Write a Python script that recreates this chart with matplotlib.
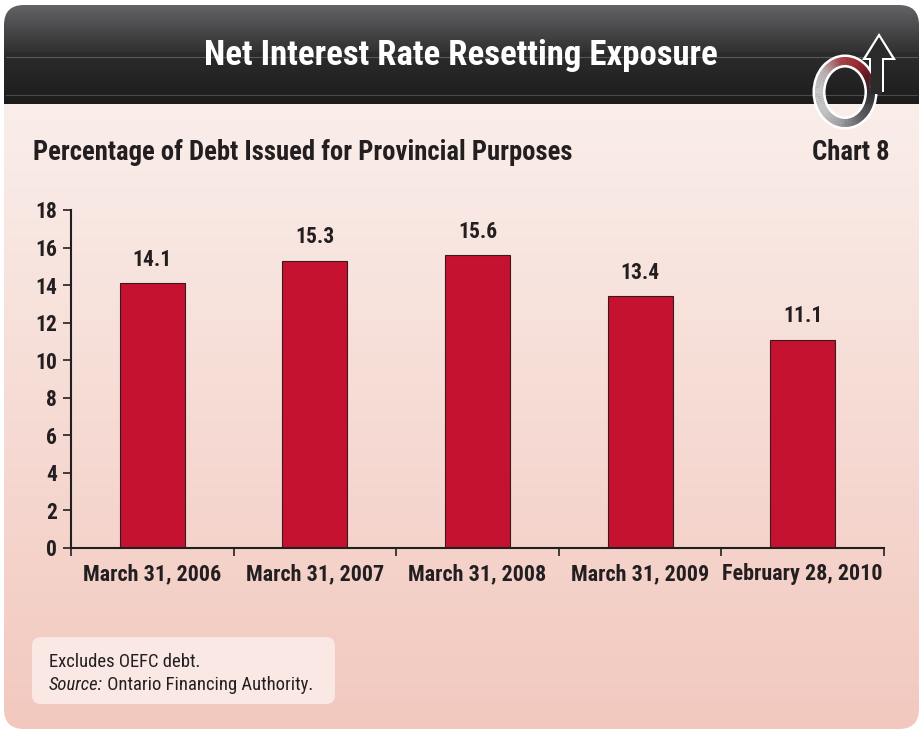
import numpy as np
import matplotlib
matplotlib.use('Agg')
import matplotlib.pyplot as plt
from matplotlib.patches import FancyBboxPatch, Polygon, Ellipse
from matplotlib.colors import to_rgb

# data
categories = ['March 31, 2006', 'March 31, 2007', 'March 31, 2008',
              'March 31, 2009', 'February 28, 2010']
values = [14.1, 15.3, 15.6, 13.4, 11.1]
y_ticks = [0, 2, 4, 6, 8, 10, 12, 14, 16, 18]

title = 'Net Interest Rate Resetting Exposure'
subtitle = 'Percentage of Debt Issued for Provincial Purposes'
chart_no = 'Chart 8'

NARROW = ['Roboto Condensed', 'DejaVu Sans']
plt.rcParams['font.family'] = NARROW
TXT = '#231f20'

W, H = 923, 733
fig = plt.figure(figsize=(W / 100, H / 100), dpi=100)
fig.patch.set_facecolor('white')

# background axes in pixel coords
bg = fig.add_axes([0, 0, 1, 1])
bg.set_xlim(0, W)
bg.set_ylim(H, 0)
bg.axis('off')


def lerp(c1, c2, t):
    a, b = np.array(to_rgb(c1)), np.array(to_rgb(c2))
    return a + (b - a) * t


# gradient image: dark header then pink body
img = np.zeros((H, W, 3))
hdr_bot = 104
for r in range(H):
    if r < hdr_bot:
        t = r / hdr_bot
        if t < 0.5:
            c = lerp('#68686b', '#303031', t / 0.5)
        else:
            c = lerp('#2c2c2d', '#1c1c1c', (t - 0.5) / 0.5)
    else:
        t = (r - hdr_bot) / (H - hdr_bot)
        c = lerp('#faeeea', '#f2c8be', t)
    img[r, :, :] = c

panel = FancyBboxPatch((4, 5), 915, 724, boxstyle='round,pad=0,rounding_size=20',
                       facecolor='none', edgecolor='none')
bg.add_patch(panel)
im = bg.imshow(img, extent=(0, W, H, 0), aspect='auto', interpolation='bilinear')
im.set_clip_path(panel)

# thin lines in header
bg.plot([6, 917], [57, 57], color='#58585a', lw=0.8)
bg.plot([6, 917], [95, 95], color='#4a4a4c', lw=0.8)

bg.text(461, 56, title, color='white', fontsize=25, fontweight='bold',
        ha='center', va='center')

bg.text(33, 153, subtitle, color=TXT, fontsize=19.2, fontweight='bold',
        ha='left', va='center')
bg.text(890, 153, chart_no, color=TXT, fontsize=19.2, fontweight='bold',
        ha='right', va='center')

# logo: ring + arrow
cx, cy, ra, rb, th = 845, 92, 30, 35, 8
col_stops = [(0, '#2e2e30'), (30, '#5a1a20'), (60, '#9a2a30'), (100, '#a8464a'),
             (140, '#bdb4b5'), (180, '#c8c8ca'), (220, '#c0c0c2'), (260, '#9a9a9c'),
             (310, '#555557'), (360, '#2e2e30')]


def ring_color(a):
    for (a0, c0), (a1, c1) in zip(col_stops[:-1], col_stops[1:]):
        if a0 <= a <= a1:
            return lerp(c0, c1, (a - a0) / (a1 - a0))
    return to_rgb('#2e2e30')


# white outlines
bg.add_patch(Ellipse((cx, cy), 2 * ra + 2, 2 * rb + 2, fc='none', ec='white', lw=2.2, zorder=3))
bg.add_patch(Ellipse((cx, cy), 2 * (ra - th) - 2, 2 * (rb - th) - 2, fc='none', ec='white',
                     lw=2.2, zorder=3))
bg.add_patch(Polygon([(869, 92), (869, 60), (862, 60), (879, 33), (896, 60), (884, 60), (884, 92)],
                     closed=True, fc='white', ec='none', zorder=3))
step = 4
for a in range(0, 360, step):
    t1 = np.radians(np.linspace(a, a + step + 0.5, 6))
    outer = np.c_[cx + ra * np.cos(t1), cy - rb * np.sin(t1)]
    inner = np.c_[cx + (ra - th) * np.cos(t1[::-1]), cy - (rb - th) * np.sin(t1[::-1])]
    bg.add_patch(Polygon(np.vstack([outer, inner]), closed=True,
                         fc=ring_color(a + step / 2), ec='none', zorder=4))
bg.add_patch(Polygon([(871, 94), (871, 58), (866, 58), (879, 37), (892, 58), (882, 58), (882, 94)],
                     closed=True, fc='#2a2a2b', ec='none', zorder=5))

# footnote box
box = FancyBboxPatch((32, 637), 303, 67, boxstyle='round,pad=0,rounding_size=9',
                     facecolor='#f9e8e4', edgecolor='none', zorder=2)
bg.add_patch(box)
bg.text(49, 662, 'Excludes OEFC debt.', fontsize=13.4, color=TXT,
        va='center', ha='left', zorder=3)
src = bg.text(49, 685, 'Source:', fontsize=13.4, color=TXT, style='italic',
              va='center', ha='left', zorder=3)
bg.annotate(' Ontario Financing Authority.', xy=(1, 0.5), xycoords=src,
            fontsize=13.4, color=TXT, va='center', ha='left', zorder=3)

# main chart
ax = fig.add_axes([71 / W, 1 - 548 / H, 813 / W, 338 / H])
ax.set_facecolor('none')
x = np.arange(len(categories))
ax.bar(x, values, width=0.4, color='#c41230', edgecolor='#3a1a1a', linewidth=0.8)
for xi, v in zip(x, values):
    ax.annotate(f'{v:.1f}', xy=(xi, v), xytext=(0, 9), textcoords='offset points',
                ha='center', va='bottom', fontsize=15.5, fontweight='bold', color=TXT)

ax.set_xlim(-0.5, len(categories) - 0.5)
ax.set_ylim(0, 18)
ax.set_yticks(y_ticks)
ax.set_yticklabels([str(t) for t in y_ticks], fontsize=15.5, fontweight='bold', color=TXT)
ax.set_xticks(np.arange(len(categories) + 1) - 0.5)
ax.set_xticklabels([])
ax.set_xticks(x, minor=True)
ax.set_xticklabels(categories, minor=True, fontsize=15.8, fontweight='bold', color=TXT)
ax.tick_params(axis='x', which='minor', length=0, pad=11)
ax.tick_params(axis='x', which='major', length=6, width=1.2, color=TXT, direction='out')
ax.tick_params(axis='y', length=6, width=1.2, color=TXT, direction='out', pad=4)
for s in ['top', 'right']:
    ax.spines[s].set_visible(False)
for s in ['left', 'bottom']:
    ax.spines[s].set_linewidth(1.5)
    ax.spines[s].set_color(TXT)

fig.savefig('out.png', dpi=100)
